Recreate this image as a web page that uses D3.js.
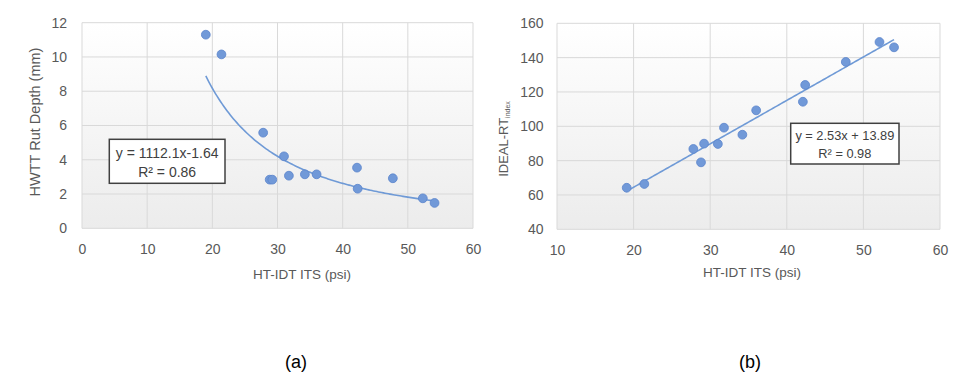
<!DOCTYPE html>
<html>
<head>
<meta charset="utf-8">
<script src="https://cdn.jsdelivr.net/npm/d3@7"></script>
<style>
  body { margin: 0; background: #fff; }
  svg text { font-family: "Liberation Sans", Arial, sans-serif; }
</style>
</head>
<body>
<div id="chart"></div>
<script>
// HT-IDT ITS (psi), same samples in both panels
const itsA = [19.0, 21.4, 27.8, 31.0, 28.8, 29.2, 31.75, 34.2, 36.0, 42.2, 42.3, 47.7, 52.3, 54.1];
const rutDepth = [11.3, 10.15, 5.58, 4.2, 2.84, 2.84, 3.07, 3.15, 3.15, 3.54, 2.31, 2.92, 1.75, 1.48];

const itsB = [19.1, 21.4, 27.8, 29.2, 28.8, 31.0, 31.8, 34.2, 36.0, 42.1, 42.4, 47.7, 52.1, 54.0];
const rtIndex = [64.2, 66.4, 86.8, 89.9, 79.0, 89.7, 99.2, 95.1, 109.3, 114.3, 124.1, 137.5, 149.1, 146.0];

const xTicksA = [0, 10, 20, 30, 40, 50, 60];
const yTicksA = [0, 2, 4, 6, 8, 10, 12];
const xTicksB = [10, 20, 30, 40, 50, 60];
const yTicksB = [40, 60, 80, 100, 120, 140, 160];

// trend line coefficients as printed on the chart
const powerFit = { a: 1112.1, b: -1.64, r2: 0.86 };
const linearFit = { m: 2.53, c: 13.89, r2: 0.98 };
const fitRange = [19, 54];

const width = 972;
const height = 378;

const svg = d3.select("#chart").append("svg")
    .attr("width", width)
    .attr("height", height);

const defs = svg.append("defs");
const grad = defs.append("linearGradient")
    .attr("id", "plotbg")
    .attr("x1", 0).attr("y1", 0).attr("x2", 0).attr("y2", 1);
grad.append("stop").attr("offset", "0%").attr("stop-color", "#ffffff");
grad.append("stop").attr("offset", "100%").attr("stop-color", "#ececec");

const gridColor = "#d9d9d9";
const textColor = "#595959";
const dotFill = "#7199d8";
const dotStroke = "#5b84cc";
const lineColor = "#6f9ad6";

function panel(cfg) {
    const x = d3.scaleLinear().domain(cfg.xDomain).range([cfg.left, cfg.right]);
    const y = d3.scaleLinear().domain(cfg.yDomain).range([cfg.bottom, cfg.top]);
    const g = svg.append("g");

    g.append("rect")
        .attr("x", cfg.left).attr("y", cfg.top)
        .attr("width", cfg.right - cfg.left)
        .attr("height", cfg.bottom - cfg.top)
        .attr("fill", "url(#plotbg)");

    // grid
    g.append("g").selectAll("line")
        .data(cfg.xTicks)
        .join("line")
        .attr("x1", d => x(d)).attr("x2", d => x(d))
        .attr("y1", cfg.top).attr("y2", cfg.bottom)
        .attr("stroke", gridColor);
    g.append("g").selectAll("line")
        .data(cfg.yTicks)
        .join("line")
        .attr("x1", cfg.left).attr("x2", cfg.right)
        .attr("y1", d => y(d)).attr("y2", d => y(d))
        .attr("stroke", gridColor);

    const xAxis = g.append("g")
        .attr("transform", `translate(0,${cfg.bottom})`)
        .call(d3.axisBottom(x).tickValues(cfg.xTicks).tickSize(0).tickPadding(16));
    const yAxis = g.append("g")
        .attr("transform", `translate(${cfg.left},0)`)
        .call(d3.axisLeft(y).tickValues(cfg.yTicks).tickSize(0).tickPadding(cfg.yPad));
    [xAxis, yAxis].forEach(a => {
        a.select(".domain").remove();
        a.selectAll("text")
            .attr("fill", textColor)
            .style("font-size", "14px");
    });

    // trend line
    const fx = d3.range(fitRange[0], fitRange[1] + 0.01, 0.25);
    g.append("path")
        .datum(fx)
        .attr("fill", "none")
        .attr("stroke", lineColor)
        .attr("stroke-width", 1.6)
        .attr("d", d3.line().x(d => x(d)).y(d => y(cfg.fit(d))));

    g.append("g").selectAll("circle")
        .data(cfg.xs.map((v, i) => [v, cfg.ys[i]]))
        .join("circle")
        .attr("cx", d => x(d[0]))
        .attr("cy", d => y(d[1]))
        .attr("r", 4.4)
        .attr("fill", dotFill)
        .attr("stroke", dotStroke)
        .attr("stroke-width", 0.8);

    // equation box
    g.append("rect")
        .attr("x", cfg.box[0]).attr("y", cfg.box[1])
        .attr("width", cfg.box[2]).attr("height", cfg.box[3])
        .attr("fill", "#fff")
        .attr("stroke", "#404040")
        .attr("stroke-width", 1.5);
    const cx = cfg.box[0] + cfg.box[2] / 2;
    g.append("text")
        .attr("x", cx).attr("y", cfg.box[1] + cfg.box[3] * 0.31)
        .attr("dy", "0.35em")
        .attr("text-anchor", "middle")
        .attr("fill", "#404040")
        .style("font-size", cfg.eqSize)
        .text(cfg.eq);
    g.append("text")
        .attr("x", cx).attr("y", cfg.box[1] + cfg.box[3] * 0.74)
        .attr("dy", "0.35em")
        .attr("text-anchor", "middle")
        .attr("fill", "#404040")
        .style("font-size", cfg.eqSize)
        .text(cfg.r2);

    // x title
    g.append("text")
        .attr("x", cfg.xTitlePos[0]).attr("y", cfg.xTitlePos[1])
        .attr("dy", "0.35em")
        .attr("text-anchor", "middle")
        .attr("fill", textColor)
        .style("font-size", "13.5px")
        .text("HT-IDT ITS (psi)");

    return { x, y, g };
}

const pa = panel({
    xDomain: [0, 60], yDomain: [0, 12],
    left: 82, right: 473, top: 22.7, bottom: 228.3,
    xTicks: xTicksA, yTicks: yTicksA, yPad: 15,
    xs: itsA, ys: rutDepth,
    fit: v => powerFit.a * Math.pow(v, powerFit.b),
    box: [109.3, 139.3, 115.7, 44],
    eqSize: "14px",
    eq: `y = ${powerFit.a}x${powerFit.b}`,
    r2: `R² = ${powerFit.r2}`,
    xTitlePos: [302, 274]
});

const pb = panel({
    xDomain: [10, 60], yDomain: [40, 160],
    left: 557, right: 940, top: 23.3, bottom: 229.3,
    xTicks: xTicksB, yTicks: yTicksB, yPad: 13.5,
    xs: itsB, ys: rtIndex,
    fit: v => linearFit.m * v + linearFit.c,
    box: [790.7, 123.3, 108.3, 40.7],
    eqSize: "12.8px",
    eq: `y = ${linearFit.m}x + ${linearFit.c}`,
    r2: `R² = ${linearFit.r2}`,
    xTitlePos: [752, 272]
});

// y titles
svg.append("text")
    .attr("transform", "translate(34.5,122) rotate(-90)")
    .attr("dy", "0.35em")
    .attr("text-anchor", "middle")
    .attr("fill", textColor)
    .style("font-size", "14.5px")
    .text("HWTT Rut Depth (mm)");

const yb = svg.append("text")
    .attr("transform", "translate(503,139) rotate(-90)")
    .attr("dy", "0.35em")
    .attr("text-anchor", "middle")
    .attr("fill", textColor)
    .style("font-size", "13px");
yb.append("tspan").text("IDEAL-RT");
yb.append("tspan").attr("dy", "0.35em").style("font-size", "7px").text("index");

// panel captions
svg.append("text")
    .attr("x", 296).attr("y", 362).attr("dy", "0.35em")
    .attr("text-anchor", "middle")
    .attr("fill", "#000")
    .style("font-size", "18px")
    .text("(a)");
svg.append("text")
    .attr("x", 750).attr("y", 362).attr("dy", "0.35em")
    .attr("text-anchor", "middle")
    .attr("fill", "#000")
    .style("font-size", "18px")
    .text("(b)");
</script>
</body>
</html>
